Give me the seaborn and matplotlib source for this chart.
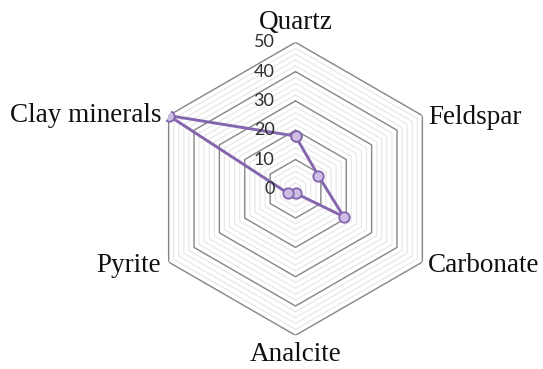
import numpy as np
import pandas as pd
import matplotlib
matplotlib.use("Agg")
import matplotlib.pyplot as plt
import seaborn as sns

# Mineral composition (wt%)
categories = ["Quartz", "Feldspar", "Carbonate", "Analcite", "Pyrite", "Clay minerals"]
values = [18, 9, 19, 1.5, 3, 50]
ring_ticks = [0, 10, 20, 30, 40, 50]

sns.set_theme(style="white")
plt.rcParams["font.family"] = ["Liberation Serif", "DejaVu Serif"]

line_color = "#8466AE"
marker_fill = "#CDBFE4"

n = len(categories)
angles = np.linspace(0, 2 * np.pi, n, endpoint=False)
closed_angles = np.append(angles, angles[0])

fig = plt.figure(figsize=(5.43, 3.69), dpi=100)
ax = fig.add_axes([0.2744, 0.0913, 0.5396, 0.794], projection="polar")
ax.set_theta_zero_location("N")
ax.set_theta_direction(-1)
ax.set_ylim(0, 50)
ax.grid(False)
ax.spines["polar"].set_visible(False)
ax.set_xticks([])
ax.set_yticks([])
ax.patch.set_alpha(0)

# Hexagonal grid: light minor rings every 2, darker major rings every 10
for r in range(2, 51, 2):
    major = r % 10 == 0
    ax.plot(closed_angles, [r] * (n + 1),
            color="#858585" if major else "#E6E6E6",
            lw=1.0 if major else 0.8, zorder=1 if major else 0.5)

# Data polygon
df = pd.DataFrame({
    "theta": closed_angles,
    "value": values + values[:1],
})
sns.lineplot(data=df, x="theta", y="value", ax=ax, sort=False, estimator=None,
             color=line_color, lw=2.1, marker="o", markersize=7.5,
             markerfacecolor=marker_fill, markeredgecolor=line_color,
             markeredgewidth=1.3, zorder=5)
ax.set_xlabel("")
ax.set_ylabel("")
ax.set_ylim(0, 50)

# Radial tick labels along the top spoke
for t in ring_ticks:
    ax.annotate(str(t), xy=(0, t), xytext=(-21, 0), textcoords="offset pixels",
                ha="right", va="center", fontsize=13, family=["Lato", "DejaVu Sans"],
                color="#303030", zorder=6)

# Category labels around the outer ring
label_cfg = {
    "Quartz": ((0, 13), "center", "baseline"),
    "Feldspar": ((6, -2), "left", "center"),
    "Carbonate": ((6, -3), "left", "center"),
    "Analcite": ((0, -7), "center", "top"),
    "Pyrite": ((-8, -3), "right", "center"),
    "Clay minerals": ((-7, 0), "right", "center"),
}
for ang, cat in zip(angles, categories):
    off, ha, va = label_cfg[cat]
    ax.annotate(cat, xy=(ang, 50), xytext=off, textcoords="offset pixels",
                ha=ha, va=va, fontsize=19.5, color="#111111",
                annotation_clip=False)

fig.savefig("out.png", dpi=100)
